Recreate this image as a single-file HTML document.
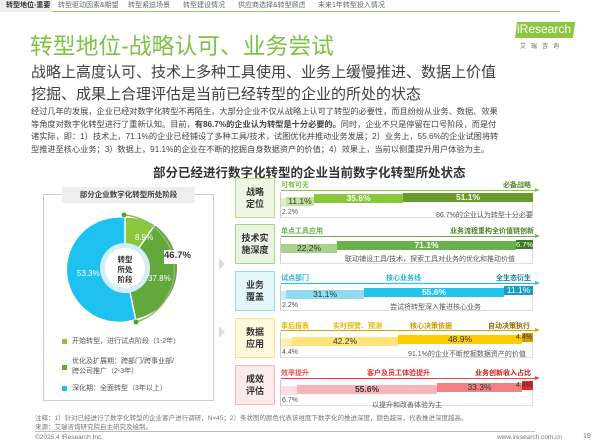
<!DOCTYPE html>
<html><head><meta charset="utf-8"><style>
*{margin:0;padding:0;box-sizing:border-box}
body{width:600px;height:447px;overflow:hidden;background:#fff;font-family:"Liberation Sans","Noto Sans CJK SC",sans-serif;position:relative;color:#404040}
.a{position:absolute;white-space:nowrap}
.tab{position:absolute;top:0;height:12px;font-size:7px;color:#666;line-height:12px}
.lab{position:absolute;left:235px;width:40px;height:40px;border:1.5px solid;font-size:9px;font-weight:bold;text-align:center;line-height:12px;padding-top:7px;color:#333}
.frame{position:absolute;left:280px;width:253px;border-left:1px solid #ccc;border-right:1px solid #ddd;border-bottom:1px solid #ddd}
.seg{position:absolute;height:9px;font-size:8.5px;text-align:center;line-height:9px;color:#333}
.t{position:absolute;font-size:7px;font-weight:bold}
.bt{position:absolute;font-size:7px;color:#555}
</style></head><body>
<div class="a" style="left:0;top:0;width:560px;height:12px;border-bottom:1px solid #9ccc65"></div>
<div class="tab" style="left:0;width:52px;background:#eee;color:#333;font-weight:bold;padding-left:6px">转型地位-重要</div>
<div class="tab" style="left:58px">转型驱动因素&amp;期望</div>
<div class="tab" style="left:128px">转型紧迫场景</div>
<div class="tab" style="left:183px">转型建设情况</div>
<div class="tab" style="left:238px">供应商选择&amp;转型顾虑</div>
<div class="tab" style="left:318px">未来1年转型投入情况</div>
<div class="a" style="left:30px;top:28px;font-size:22.8px;color:#7dc242">转型地位-战略认可、业务尝试</div>
<div class="a" style="left:516px;top:22px;width:58px;height:16px;background:#8cc63f;transform:skewX(-8deg)"></div>
<div class="a" style="left:517px;top:22px;font-size:12px;color:#fff">iResearch</div>
<div class="a" style="left:520px;top:41px;font-size:6px;color:#666;letter-spacing:5px">艾瑞咨询</div>
<div class="a" style="left:31px;top:62px;font-size:15px;color:#404040;line-height:22px">战略上高度认可、技术上多种工具使用、业务上缓慢推进、数据上价值<br>挖掘、成果上合理评估是当前已经转型的企业的所处的状态</div>
<div class="a" style="left:31px;top:106px;font-size:8.2px;line-height:12.6px;color:#444">经过几年的发展，企业已经对数字化转型不再陌生，大部分企业不仅从战略上认可了转型的必要性，而且纷纷从业务、数据、效果<br>等角度对数字化转型进行了重新认知。目前，<b>有86.7%的企业认为转型是十分必要的。</b>同时，企业不只是停留在口号阶段，而是付<br>诸实际，即：1）技术上，71.1%的企业已经铺设了多种工具/技术，试图优化并推动业务发展；2）业务上，55.6%的企业试图将转<br>型推进至核心业务；3）数据上，91.1%的企业在不断的挖掘自身数据资产的价值；4）效果上，当前以侧重提升用户体验为主。</div>
<div class="a" style="left:153px;top:162px;font-size:12.5px;font-weight:bold;color:#333">部分已经进行数字化转型的企业当前数字化转型所处状态</div>
<!-- left box -->
<div class="a" style="left:43px;top:194px;width:171px;height:207px;border:1px solid #ccc"></div>
<div class="a" style="left:62px;top:187px;width:133px;height:16px;background:#eee;font-size:7.5px;font-weight:bold;text-align:center;line-height:16px;color:#444">部分企业数字化转型所处阶段</div>
<svg class="a" style="left:60px;top:205px" width="140" height="130" viewBox="60 205 140 130">
<path d="M125 218 A52 52 0 0 1 154.7 225.3 L125 268Z" fill="#8cc63f"/>
<path d="M154.7 225.3 A52 52 0 0 1 135.8 318.9 L125 268Z" fill="#62a83d"/>
<path d="M135.8 318.9 A52 52 0 1 1 125 218 L125 268Z" fill="#1fc2ef"/>
<g stroke="#fff" stroke-width="1.5"><line x1="125" y1="268" x2="125" y2="216"/><line x1="125" y1="268" x2="155.5" y2="224"/><line x1="125" y1="268" x2="136" y2="321"/></g>
<circle cx="125" cy="268" r="25" fill="#d4eef8"/><circle cx="125" cy="268" r="20" fill="#fff"/>
<path d="M125 215 A55 55 0 0 1 136.4 322" fill="none" stroke="#8dba67" stroke-width="1.5"/>
<circle cx="124" cy="215" r="2.5" fill="#5c9a2e"/><circle cx="136" cy="322" r="2.5" fill="#5c9a2e"/>
<text x="135" y="240" font-size="8" fill="#fff" font-family="Liberation Sans">8.9%</text>
<text x="148" y="281" font-size="8" fill="#fff" font-family="Liberation Sans">37.8%</text>
<text x="77" y="276" font-size="8" fill="#fff" font-family="Liberation Sans">53.3%</text>
<text x="125" y="262" font-size="7.5" font-weight="bold" fill="#333" text-anchor="middle" font-family="Noto Sans CJK SC">转型</text>
<text x="125" y="272" font-size="7.5" font-weight="bold" fill="#333" text-anchor="middle" font-family="Noto Sans CJK SC">所处</text>
<text x="125" y="282" font-size="7.5" font-weight="bold" fill="#333" text-anchor="middle" font-family="Noto Sans CJK SC">阶段</text>
</svg>
<div class="a" style="left:164px;top:250px;width:30px;height:14px;background:#fff;font-size:9.5px;font-weight:bold;color:#333">46.7%</div>
<div class="a" style="left:62px;top:339px;width:5px;height:5px;background:#8cc63f"></div>
<div class="a" style="left:72px;top:336px;font-size:7px;color:#555">开始转型，进行试点阶段（1-2年）</div>
<div class="a" style="left:62px;top:365px;width:5px;height:5px;background:#62a83d"></div>
<div class="a" style="left:72px;top:357px;font-size:7px;color:#555;line-height:10px">优化及扩展期：跨部门/跨事业部/<br>跨公司推广（2-3年）</div>
<div class="a" style="left:62px;top:386px;width:5px;height:5px;background:#1fc2ef"></div>
<div class="a" style="left:72px;top:383px;font-size:7px;color:#555">深化期：全面转型（3年以上）</div>
<div class="a" style="left:219px;top:258px;width:6px;height:12px;background:#ddd;clip-path:polygon(0 0,100% 50%,0 100%)"></div>
<div class="a" style="left:219px;top:326px;width:6px;height:12px;background:#ddd;clip-path:polygon(0 0,100% 50%,0 100%)"></div>

<!-- row1 -->
<div class="lab" style="top:178px;border-color:#b5dc8a;background:#eef7e3">战略<br>定位</div>
<div class="t" style="left:281px;top:180px;color:#7dc242">可有可无</div><div class="t" style="left:503px;top:180px;color:#4f8a22">必备战略</div>
<div class="a" style="left:281px;top:190px;width:255px;height:1px;background:#8cc63f"></div><div class="a" style="left:535px;top:188px;border-left:5px solid #8cc63f;border-top:2.5px solid transparent;border-bottom:2.5px solid transparent"></div>
<div class="frame" style="top:192px;height:26px"></div>
<div class="seg" style="left:281px;top:198px;width:5px;background:#dcefc6"></div>
<div class="seg" style="left:286px;top:197px;width:28px;background:#c5e3a0">11.1%</div>
<div class="seg" style="left:314px;top:194px;width:89px;background:#8cc63f;color:#fff;font-weight:bold">35.6%</div>
<div class="seg" style="left:403px;top:193px;width:130px;background:#6a9a2a;color:#fff;font-weight:bold">51.1%</div>
<div class="bt" style="left:282px;top:209px">2.2%</div><div class="bt" style="left:436px;top:210px">86.7%的企业认为转型十分必要</div>
<!-- row2 -->
<div class="lab" style="top:224px;border-color:#a9d18e;background:#eaf5e1">技术实<br>施深度</div>
<div class="t" style="left:281px;top:226px;color:#6ab04c">单点工具应用</div><div class="t" style="left:450px;top:226px;color:#4a7f2a">业务流程重构全价值链创新</div>
<div class="a" style="left:281px;top:236px;width:255px;height:1px;background:#6ab04c"></div><div class="a" style="left:535px;top:234px;border-left:5px solid #6ab04c;border-top:2.5px solid transparent;border-bottom:2.5px solid transparent"></div>
<div class="frame" style="top:238px;height:26px"></div>
<div class="seg" style="left:281px;top:244px;width:56px;background:#a9d18e">22.2%</div>
<div class="seg" style="left:337px;top:241px;width:179px;background:#6ab04c;color:#fff;font-weight:bold">71.1%</div>
<div class="seg" style="left:516px;top:240px;width:17px;background:#3e7a22;color:#fff;font-size:7.5px">6.7%</div>
<div class="bt" style="left:345px;top:254px">联动铺设工具/技术，探索工具对业务的优化和推动价值</div>
<!-- row3 -->
<div class="lab" style="top:271px;border-color:#8fdcf0;background:#e2f6fc">业务<br>覆盖</div>
<div class="t" style="left:281px;top:273px;color:#1fb4e0">试点部门</div><div class="t" style="left:386px;top:273px;color:#1fb4e0">核心业务线</div><div class="t" style="left:496px;top:273px;color:#1a7f9f">全生态衍生</div>
<div class="a" style="left:281px;top:283px;width:255px;height:1px;background:#1fc2ef"></div><div class="a" style="left:535px;top:281px;border-left:5px solid #1fc2ef;border-top:2.5px solid transparent;border-bottom:2.5px solid transparent"></div>
<div class="frame" style="top:285px;height:26px"></div>
<div class="seg" style="left:281px;top:291px;width:5px;background:#c9eef9"></div>
<div class="seg" style="left:286px;top:290px;width:78px;background:#8fdcf0">31.1%</div>
<div class="seg" style="left:364px;top:288px;width:140px;background:#22c4ee;color:#fff;font-weight:bold">55.6%</div>
<div class="seg" style="left:504px;top:286px;width:29px;background:#1a9bbf;color:#fff">11.1%</div>
<div class="bt" style="left:282px;top:302px">2.2%</div><div class="bt" style="left:390px;top:302px">尝试将转型深入推进核心业务</div>
<!-- row4 -->
<div class="lab" style="top:318px;border-color:#ffe27a;background:#fff8dc">数据<br>应用</div>
<div class="t" style="left:281px;top:321px;color:#e6b800">事后报表</div><div class="t" style="left:333px;top:321px;color:#e6b800">实时预警、预测</div><div class="t" style="left:410px;top:321px;color:#c89a00">核心决策依据</div><div class="t" style="left:488px;top:321px;color:#8a6a00">自动决策执行</div>
<div class="a" style="left:281px;top:330px;width:255px;height:1px;background:#d4a800"></div><div class="a" style="left:535px;top:328px;border-left:5px solid #d4a800;border-top:2.5px solid transparent;border-bottom:2.5px solid transparent"></div>
<div class="frame" style="top:332px;height:26px"></div>
<div class="seg" style="left:281px;top:338px;width:11px;background:#fff0b3"></div>
<div class="seg" style="left:292px;top:337px;width:106px;background:#ffe27a">42.2%</div>
<div class="seg" style="left:398px;top:335px;width:124px;background:#ffcc00">48.9%</div>
<div class="seg" style="left:522px;top:333px;width:11px;background:#c8a000"></div>
<div class="a" style="left:516px;top:333px;font-size:7px;line-height:9px;color:#333">4.4%</div>
<div class="bt" style="left:282px;top:349px">4.4%</div><div class="bt" style="left:408px;top:349px">91.1%的企业不断挖掘数据资产的价值</div>
<!-- row5 -->
<div class="lab" style="top:365px;border-color:#f7b5b8;background:#fdeaea">成效<br>评估</div>
<div class="t" style="left:281px;top:368px;color:#ee5050">效率提升</div><div class="t" style="left:367px;top:368px;color:#e03030">客户及员工体验提升</div><div class="t" style="left:475px;top:368px;color:#d01818">业务创新收入占比</div>
<div class="a" style="left:281px;top:378px;width:255px;height:1px;background:#ee4040"></div><div class="a" style="left:535px;top:376px;border-left:5px solid #ee4040;border-top:2.5px solid transparent;border-bottom:2.5px solid transparent"></div>
<div class="frame" style="top:380px;height:26px"></div>
<div class="seg" style="left:281px;top:386px;width:16px;background:#fce0e0"></div>
<div class="seg" style="left:297px;top:385px;width:140px;background:#f8b5b8;font-weight:bold">55.6%</div>
<div class="seg" style="left:437px;top:383px;width:85px;background:#f08286">33.3%</div>
<div class="seg" style="left:522px;top:381px;width:11px;background:#e0282e"></div>
<div class="a" style="left:516px;top:381px;font-size:7px;line-height:9px;color:#333">4.4%</div>
<div class="bt" style="left:282px;top:397px">6.7%</div><div class="bt" style="left:372px;top:400px">以提升和改善体验为主</div>
<!-- footer -->
<div class="a" style="left:35px;top:412px;font-size:6.5px;color:#777">注释：1）针对已经进行了数字化转型的企业客户进行调研，N=45；2）条状图的颜色代表该维度下数字化的推进深度，颜色越深，代表推进深度越高。</div>
<div class="a" style="left:35px;top:421px;font-size:6.5px;color:#777;border-bottom:1px solid #999">来源：艾瑞咨询研究院自主研究及绘制。</div>
<div class="a" style="left:35px;top:431px;width:500px;height:1px;background:#bbb"></div>
<div class="a" style="left:35px;top:434px;font-size:6.5px;color:#777">©2025.4 iResearch Inc.</div>
<div class="a" style="left:497px;top:434px;font-size:6.5px;color:#777">www.iresearch.com.cn</div>
<div class="a" style="left:583px;top:433px;font-size:7px;color:#777">19</div>
</body></html>
